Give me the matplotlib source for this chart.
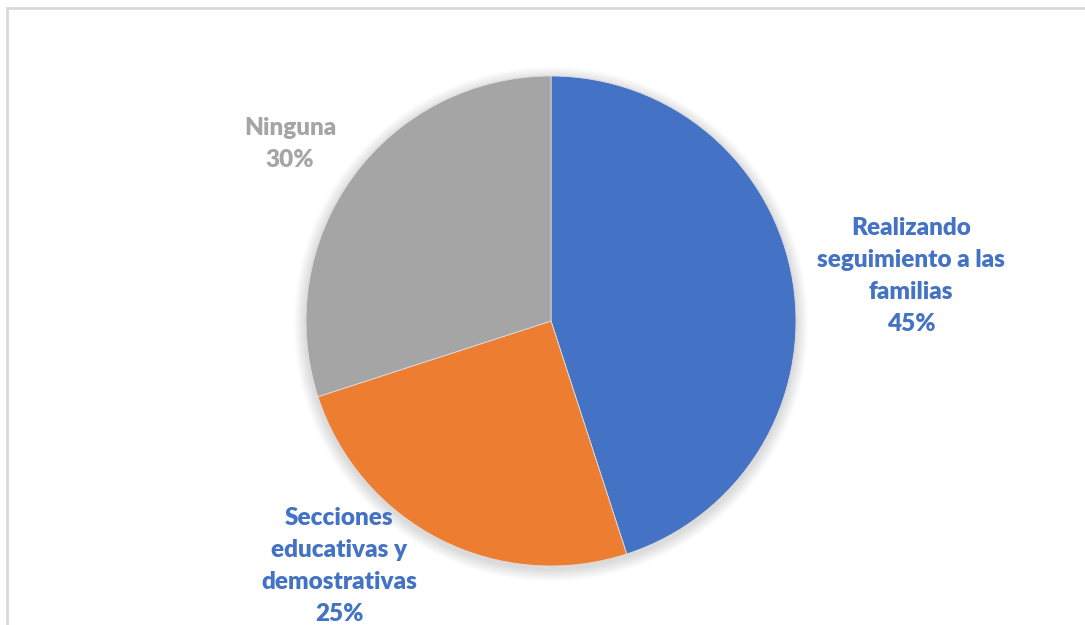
import matplotlib.pyplot as plt
import numpy as np
from matplotlib.patches import Circle

categories = ["Realizando\nseguimiento a las\nfamilias", "Secciones\neducativas y\ndemostrativas", "Ninguna"]
shares = [45, 25, 30]
colors = ["#4472C4", "#ED7D31", "#A5A5A5"]
label_colors = ["#4472C4", "#4472C4", "#A5A5A5"]

W, H = 1085, 625
fig = plt.figure(figsize=(W / 100, H / 100), dpi=100)
ax = fig.add_axes([0, 0, 1, 1])

cx, cy, r = 551, H - 321, 245

# soft drop shadow under the pie
for k in range(12):
    ax.add_patch(Circle((cx, cy - 3), r + 12 - k, color="black",
                        alpha=0.012, lw=0, zorder=1))

wedges, _ = ax.pie(shares, colors=colors, startangle=90, counterclock=False,
                   center=(cx, cy), radius=r, frame=True,
                   wedgeprops=dict(linewidth=0.6, edgecolor="#dddddd", zorder=2))
ax.set_xlim(0, W)
ax.set_ylim(0, H)
ax.axis("off")

# data labels: category + percentage
label_pos = [(911, H - 276), (339, H - 566), (290, H - 144)]
for cat, val, col, (x, y) in zip(categories, shares, label_colors, label_pos):
    ax.text(x, y, f"{cat}\n{val}%", ha="center", va="center", color=col,
            fontsize=17.5, fontweight="heavy", family="Lato", linespacing=1.55,
            zorder=3)

# chart area border (left and top edges)
ax.plot([7, 7, W], [0, H - 8, H - 8], color="#D9D9D9", lw=2,
        solid_joinstyle="miter", clip_on=False, zorder=4)

fig.savefig("out.png", dpi=100)
